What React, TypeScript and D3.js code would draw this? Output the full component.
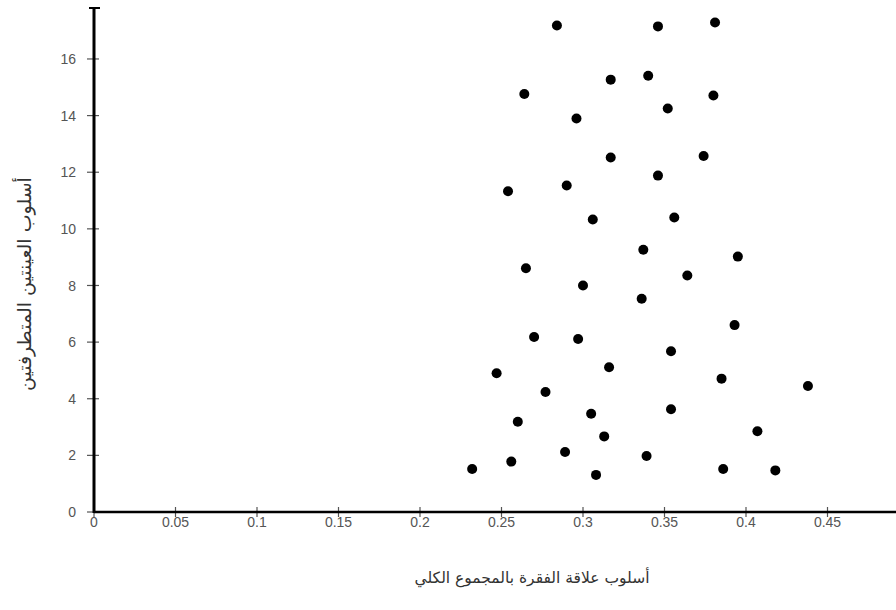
import React, { useRef, useEffect } from 'react';
import * as d3 from 'd3';

const WIDTH = 896;
const HEIGHT = 610;

// scatter values
const xValues = [
  0.284, 0.346, 0.381, 0.317, 0.340, 0.264, 0.380, 0.352, 0.296, 0.317,
  0.374, 0.346, 0.254, 0.290, 0.306, 0.356, 0.337, 0.395, 0.265, 0.300,
  0.364, 0.336, 0.393, 0.270, 0.297, 0.354, 0.316, 0.247, 0.385, 0.438,
  0.277, 0.354, 0.260, 0.305, 0.313, 0.407, 0.289, 0.339, 0.232, 0.256,
  0.308, 0.386, 0.418
];
const yValues = [
  17.18, 17.15, 17.29, 15.27, 15.41, 14.76, 14.71, 14.25, 13.90, 12.52,
  12.57, 11.88, 11.33, 11.53, 10.33, 10.40, 9.26, 9.02, 8.61, 8.00,
  8.35, 7.53, 6.60, 6.18, 6.11, 5.68, 5.11, 4.90, 4.71, 4.45,
  4.24, 3.63, 3.19, 3.47, 2.67, 2.85, 2.12, 1.98, 1.52, 1.78,
  1.31, 1.52, 1.47
];

const xTicks = [0, 0.05, 0.1, 0.15, 0.2, 0.25, 0.3, 0.35, 0.4, 0.45];
const yTicks = [0, 2, 4, 6, 8, 10, 12, 14, 16];

const xTitle = 'أسلوب علاقة الفقرة بالمجموع الكلي';
const yTitle = 'أسلوب العينتين المتطرفتين';

const App = () => {
  const svgRef = useRef(null);

  useEffect(() => {
    const svg = d3.select(svgRef.current);
    svg.selectAll('*').remove();

    const xScale = d3.scaleLinear().domain([0, 0.5]).range([94, 909]);
    const yScale = d3.scaleLinear().domain([0, 17.8]).range([512, 8]);

    const tickColor = '#555';
    const labelFont = '"Liberation Sans", Arial, sans-serif';

    // y ticks: short marks crossing the axis
    svg.append('g')
      .selectAll('line')
      .data(yTicks)
      .join('line')
      .attr('x1', xScale(0) - 7)
      .attr('x2', xScale(0) + 5)
      .attr('y1', d => yScale(d))
      .attr('y2', d => yScale(d))
      .attr('stroke', tickColor)
      .attr('stroke-width', 1.2);

    svg.append('g')
      .selectAll('text')
      .data(yTicks)
      .join('text')
      .attr('x', 76)
      .attr('y', d => yScale(d))
      .attr('dy', '0.36em')
      .attr('text-anchor', 'end')
      .attr('font-family', labelFont)
      .attr('font-size', 14)
      .attr('fill', tickColor)
      .text(d => d);

    // x ticks
    svg.append('g')
      .selectAll('line')
      .data(xTicks.concat([0.5]))
      .join('line')
      .attr('x1', d => xScale(d))
      .attr('x2', d => xScale(d))
      .attr('y1', yScale(0) - 5)
      .attr('y2', yScale(0) + 5)
      .attr('stroke', tickColor)
      .attr('stroke-width', 1.2);

    svg.append('g')
      .selectAll('text')
      .data(xTicks)
      .join('text')
      .attr('x', d => xScale(d))
      .attr('y', 522)
      .attr('dy', '0.36em')
      .attr('text-anchor', 'middle')
      .attr('font-family', labelFont)
      .attr('font-size', 14)
      .attr('fill', tickColor)
      .text(d => d);

    // axis lines
    svg.append('line')
      .attr('x1', xScale(0))
      .attr('x2', WIDTH)
      .attr('y1', yScale(0))
      .attr('y2', yScale(0))
      .attr('stroke', '#000')
      .attr('stroke-width', 2.5);

    svg.append('line')
      .attr('x1', xScale(0))
      .attr('x2', xScale(0))
      .attr('y1', yScale(0) + 1)
      .attr('y2', yScale(17.8))
      .attr('stroke', '#000')
      .attr('stroke-width', 3);

    // cap at the top of the y axis
    svg.append('line')
      .attr('x1', xScale(0) - 5)
      .attr('x2', xScale(0) + 6)
      .attr('y1', yScale(17.8))
      .attr('y2', yScale(17.8))
      .attr('stroke', '#000')
      .attr('stroke-width', 2);

    // points
    svg.append('g')
      .selectAll('circle')
      .data(d3.zip(xValues, yValues))
      .join('circle')
      .attr('cx', d => xScale(d[0]))
      .attr('cy', d => yScale(d[1]))
      .attr('r', 5)
      .attr('fill', '#000');

    // axis titles
    svg.append('text')
      .attr('x', 532)
      .attr('y', 578)
      .attr('dy', '0.35em')
      .attr('text-anchor', 'middle')
      .attr('font-family', '"DejaVu Sans", sans-serif')
      .attr('font-size', 15.5)
      .attr('fill', '#333')
      .text(xTitle);

    svg.append('text')
      .attr('transform', `translate(24,${284}) rotate(-90)`)
      .attr('dy', '0.35em')
      .attr('text-anchor', 'middle')
      .attr('font-family', '"DejaVu Sans", sans-serif')
      .attr('font-size', 19)
      .attr('fill', '#333')
      .text(yTitle);
  }, []);

  return (
    <div style={{ position: 'absolute', left: 0, top: 0, width: WIDTH, height: HEIGHT, background: '#fff' }}>
      <svg ref={svgRef} width={WIDTH} height={HEIGHT} style={{ display: 'block' }}></svg>
    </div>
  );
};

export default App;
